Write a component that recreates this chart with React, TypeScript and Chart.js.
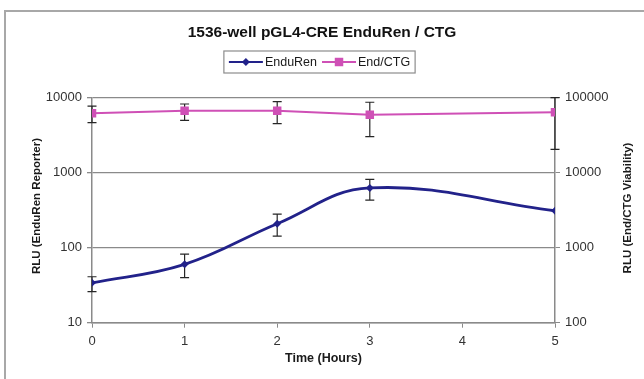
import React, { useEffect, useRef } from 'react';
import { Chart, registerables } from 'chart.js';

Chart.register(...registerables);

// ---- data ----
const hours = [0, 1, 2, 3, 5];
const enduRen = [34, 60, 209, 627, 311];
const enduRenHigh = [41, 82, 281, 817, null];
const enduRenLow = [26, 40, 143, 432, null];
const endCtg = [61900, 67100, 67100, 59300, 63800];
const endCtgHigh = [77400, 82400, 88400, 86900, 100000];
const endCtgLow = [46400, 50000, 45000, 30200, 20500];
const leftTicks = [10, 100, 1000, 10000];
const rightTicks = [100, 1000, 10000, 100000];
const xTicks = [0, 1, 2, 3, 4, 5];
const titleText = '1536-well pGL4-CRE EnduRen / CTG';
const xTitle = 'Time (Hours)';
const leftTitle = 'RLU (EnduRen Reporter)';
const rightTitle = 'RLU (End/CTG Viability)';
const seriesNames = ['EnduRen', 'End/CTG'];

const FONT = "'Liberation Sans', Arial, sans-serif";
const BLUE = '#22228a';
const PINK = '#cf50b6';
const GRID = '#8a8a8a';

function drawMarker(ctx: CanvasRenderingContext2D, style: string, x: number, y: number, r: number, color: string) {
  ctx.save();
  ctx.fillStyle = color;
  ctx.beginPath();
  if (style === 'rectRot') {
    ctx.moveTo(x, y - r);
    ctx.lineTo(x + r, y);
    ctx.lineTo(x, y + r);
    ctx.lineTo(x - r, y);
    ctx.closePath();
  } else {
    const s = r * Math.SQRT1_2;
    ctx.rect(x - s, y - s, 2 * s, 2 * s);
  }
  ctx.fill();
  ctx.restore();
}

const errorBarsPlugin = {
  id: 'errorBars',
  beforeDatasetsDraw(chart: any) {
    const ctx = chart.ctx as CanvasRenderingContext2D;
    const xs = chart.scales.x;
    chart.data.datasets.forEach((ds: any) => {
      const ys = chart.scales[ds.yAxisID];
      ds.data.forEach((pt: any, i: number) => {
        const hi = ds.errHigh[i];
        const lo = ds.errLow[i];
        if (hi == null || lo == null) return;
        const px = xs.getPixelForValue(pt.x);
        const yh = ys.getPixelForValue(hi);
        const yl = ys.getPixelForValue(lo);
        ctx.save();
        ctx.strokeStyle = '#262626';
        ctx.lineWidth = 1.2;
        ctx.beginPath();
        ctx.moveTo(px, yh);
        ctx.lineTo(px, yl);
        ctx.moveTo(px - 4.5, yh);
        ctx.lineTo(px + 4.5, yh);
        ctx.moveTo(px - 4.5, yl);
        ctx.lineTo(px + 4.5, yl);
        ctx.stroke();
        ctx.restore();
      });
    });
  },
};

const decorPlugin = {
  id: 'decor',
  afterDraw(chart: any) {
    const ctx = chart.ctx as CanvasRenderingContext2D;
    const area = chart.chartArea;
    ctx.save();
    // outer frame
    ctx.strokeStyle = '#a8a8a8';
    ctx.lineWidth = 2;
    ctx.strokeRect(5, 11, 650, 390);

    // title
    ctx.fillStyle = '#111';
    ctx.textAlign = 'center';
    ctx.textBaseline = 'middle';
    ctx.font = `bold 15.5px ${FONT}`;
    ctx.fillText(titleText, 322, 33);

    // legend
    ctx.font = `12.5px ${FONT}`;
    const lineLen = 34;
    const items = chart.data.datasets.map((ds: any) => ({
      label: ds.label,
      color: ds.borderColor,
      style: ds.pointStyle,
      r: ds.pointRadius,
      w: ctx.measureText(ds.label).width,
    }));
    let total = 0;
    items.forEach((it: any, i: number) => {
      total += lineLen + 2 + it.w + (i < items.length - 1 ? 5 : 0);
    });
    const cx = 319.5;
    const ly = 62;
    const boxL = cx - total / 2 - 5;
    const boxW = total + 10;
    ctx.strokeStyle = '#8c8c8c';
    ctx.lineWidth = 1.2;
    ctx.strokeRect(boxL, 51, boxW, 22);
    let x = cx - total / 2;
    items.forEach((it: any) => {
      ctx.strokeStyle = it.color;
      ctx.lineWidth = 2.2;
      ctx.beginPath();
      ctx.moveTo(x, ly);
      ctx.lineTo(x + lineLen, ly);
      ctx.stroke();
      drawMarker(ctx, it.style, x + lineLen / 2, ly, it.r, it.color);
      x += lineLen + 2;
      ctx.fillStyle = '#1a1a1a';
      ctx.textAlign = 'left';
      ctx.fillText(it.label, x, ly + 0.5);
      x += it.w + 5;
    });

    // axis titles
    ctx.fillStyle = '#1a1a1a';
    ctx.font = `bold 12.5px ${FONT}`;
    ctx.textAlign = 'center';
    ctx.fillText(xTitle, (area.left + area.right) / 2, 359);

    ctx.font = `bold 11.5px ${FONT}`;
    ctx.save();
    ctx.translate(37, 206);
    ctx.rotate(-Math.PI / 2);
    ctx.fillText(leftTitle, 0, 0);
    ctx.restore();

    ctx.save();
    ctx.translate(628, 208);
    ctx.rotate(-Math.PI / 2);
    ctx.fillText(rightTitle, 0, 0);
    ctx.restore();

    ctx.restore();
  },
};

export default function App() {
  const ref = useRef<HTMLCanvasElement | null>(null);

  useEffect(() => {
    if (!ref.current) return;
    const tickFont = { family: FONT, size: 13 };
    const chart = new Chart(ref.current, {
      type: 'line',
      data: {
        datasets: [
          {
            label: seriesNames[0],
            data: hours.map((h, i) => ({ x: h, y: enduRen[i] })),
            yAxisID: 'y',
            borderColor: BLUE,
            backgroundColor: BLUE,
            borderWidth: 2.8,
            tension: 0.4,
            pointStyle: 'rectRot',
            pointRadius: 4,
            pointBorderWidth: 0,
            fill: false,
            errHigh: enduRenHigh,
            errLow: enduRenLow,
          } as any,
          {
            label: seriesNames[1],
            data: hours.map((h, i) => ({ x: h, y: endCtg[i] })),
            yAxisID: 'y1',
            borderColor: PINK,
            backgroundColor: PINK,
            borderWidth: 2,
            tension: 0,
            pointStyle: 'rect',
            pointRadius: 6,
            pointBorderWidth: 0,
            fill: false,
            errHigh: endCtgHigh,
            errLow: endCtgLow,
          } as any,
        ],
      },
      options: {
        animation: false,
        responsive: false,
        events: [],
        layout: { padding: { top: 97.7, left: 0, right: 0, bottom: 0 } },
        plugins: {
          legend: { display: false },
          title: { display: false },
          tooltip: { enabled: false },
        },
        scales: {
          x: {
            type: 'linear',
            min: 0,
            max: 5,
            afterBuildTicks: (s: any) => {
              s.ticks = xTicks.map((v) => ({ value: v }));
            },
            afterFit: (s: any) => {
              s.height = 379 - 322.7;
            },
            ticks: { font: tickFont, color: '#333', padding: 6, maxRotation: 0 },
            grid: { drawOnChartArea: false, color: GRID, tickLength: 5 },
            border: { color: GRID, width: 1.5 },
          },
          y: {
            type: 'logarithmic',
            position: 'left',
            min: 10,
            max: 10000,
            afterBuildTicks: (s: any) => {
              s.ticks = leftTicks.map((v) => ({ value: v }));
            },
            afterFit: (s: any) => {
              s.width = 92;
            },
            ticks: { font: tickFont, color: '#333', padding: 5, callback: (v: any) => String(v) },
            grid: { color: GRID, lineWidth: 1.3, tickLength: 5 },
            border: { color: GRID, width: 1.5 },
          },
          y1: {
            type: 'logarithmic',
            position: 'right',
            min: 100,
            max: 100000,
            afterBuildTicks: (s: any) => {
              s.ticks = rightTicks.map((v) => ({ value: v }));
            },
            afterFit: (s: any) => {
              s.width = 644 - 555;
            },
            ticks: { font: tickFont, color: '#333', padding: 5, callback: (v: any) => String(v) },
            grid: { drawOnChartArea: false, color: GRID, tickLength: 5 },
            border: { color: GRID, width: 1.5 },
          },
        },
      },
      plugins: [errorBarsPlugin, decorPlugin],
    });
    return () => chart.destroy();
  }, []);

  return (
    <div style={{ position: 'fixed', left: 0, top: 0, width: 644, height: 379, background: '#fff' }}>
      <canvas ref={ref} width={644} height={379} style={{ display: 'block' }} />
    </div>
  );
}
